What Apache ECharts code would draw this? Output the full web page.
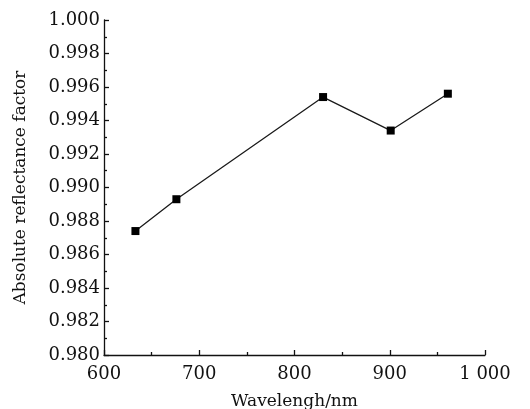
<!DOCTYPE html>
<html lang="en">
<head>
    <meta charset="UTF-8">
    <title>Absolute reflectance factor</title>
    <script src="https://cdn.jsdelivr.net/npm/echarts@6/dist/echarts.min.js"></script>
    <style>
        html, body { margin: 0; padding: 0; background: #fff; }
    </style>
</head>
<body>
<div id="chart" style="width: 530px; height: 409px;"></div>
<script>
    // values
    var wavelengths = [633, 676, 830, 901, 961];
    var reflectance = [0.9874, 0.9893, 0.9954, 0.9934, 0.9956];
    var xTicks = [600, 700, 800, 900, 1000];
    var yTicks = [0.980, 0.982, 0.984, 0.986, 0.988, 0.990, 0.992, 0.994, 0.996, 0.998, 1.000];

    var font = 'DejaVu Serif';
    var ink = '#111';

    var points = [];
    for (var i = 0; i < wavelengths.length; i++) {
        points.push([wavelengths[i], reflectance[i]]);
    }

    var chart = echarts.init(document.getElementById('chart'));
    chart.setOption({
        animation: false,
        backgroundColor: '#fff',
        grid: { left: 104, right: 45, top: 20, bottom: 54, containLabel: false, outerBoundsMode: 'none' },
        xAxis: {
            type: 'value',
            min: xTicks[0],
            max: xTicks[xTicks.length - 1],
            interval: 100,
            name: 'Wavelengh/nm',
            nameLocation: 'middle',
            nameGap: 38,
            nameTextStyle: { fontFamily: font, fontSize: 17, color: ink },
            axisLine: { lineStyle: { color: ink, width: 1.3 } },
            axisTick: { inside: true, length: 5, lineStyle: { color: ink, width: 1.3 } },
            minorTick: { show: true, splitNumber: 2, length: 3, lineStyle: { color: ink, width: 1.3 } },
            splitLine: { show: false },
            axisLabel: {
                fontFamily: font, fontSize: 18, color: ink, margin: 10,
                formatter: function (v) { return v === 1000 ? '1 000' : String(v); }
            }
        },
        yAxis: {
            type: 'value',
            min: yTicks[0],
            max: yTicks[yTicks.length - 1],
            interval: 0.002,
            name: 'Absolute reflectance factor',
            nameLocation: 'middle',
            nameGap: 75,
            nameTextStyle: { fontFamily: font, fontSize: 17, color: ink },
            axisLine: { show: true, lineStyle: { color: ink, width: 1.3 } },
            axisTick: { show: true, inside: true, length: 5, lineStyle: { color: ink, width: 1.3 } },
            minorTick: { show: true, splitNumber: 2, length: 3, lineStyle: { color: ink, width: 1.3 } },
            splitLine: { show: false },
            axisLabel: {
                fontFamily: font, fontSize: 18, color: ink, margin: 4,
                formatter: function (v) { return v.toFixed(3); }
            }
        },
        series: [{
            type: 'line',
            data: points,
            symbol: 'rect',
            symbolSize: 8,
            itemStyle: { color: '#000' },
            lineStyle: { color: '#1a1a1a', width: 1.3 }
        }]
    });
</script>
</body>
</html>
